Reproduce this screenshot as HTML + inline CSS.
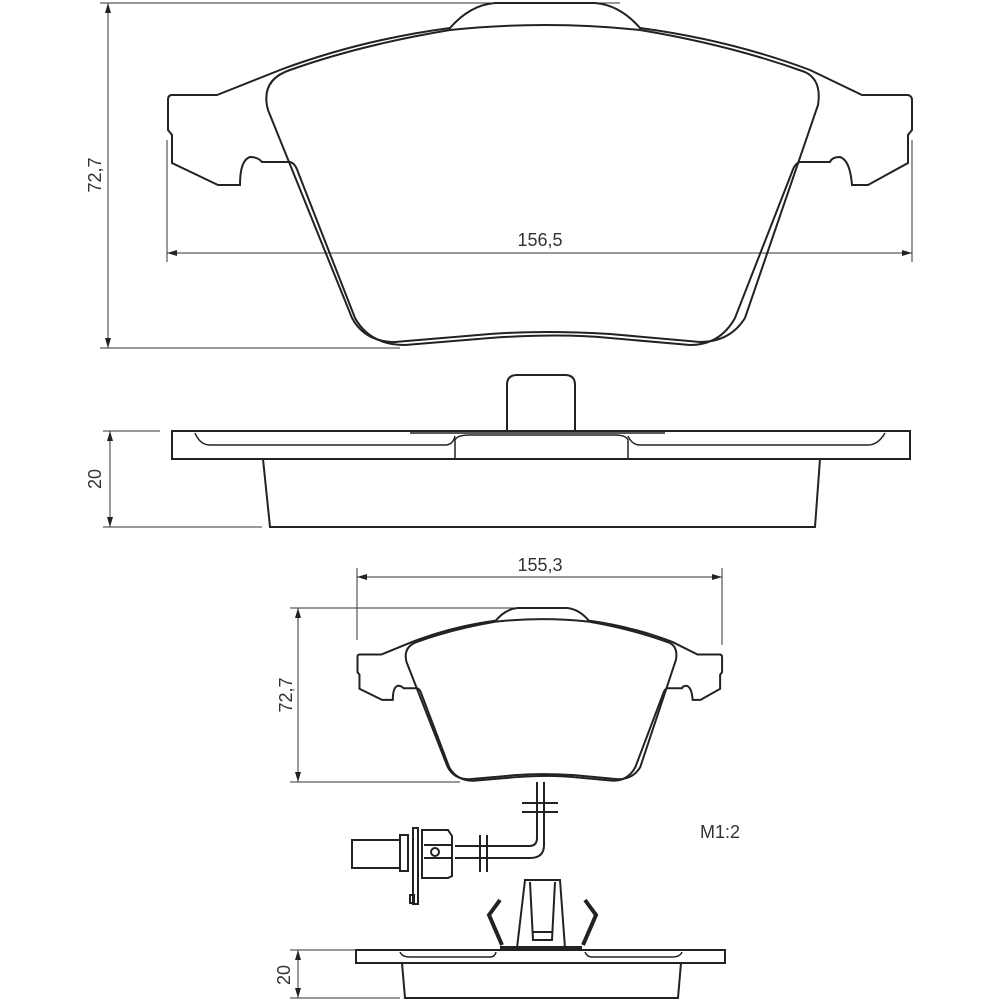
<!DOCTYPE html>
<html><head><style>body{margin:0;background:#fff}svg{display:block}text{font-family:"Liberation Sans",sans-serif;fill:#333}</style></head>
<body>
<svg width="1000" height="1000" viewBox="0 0 1000 1000" xmlns="http://www.w3.org/2000/svg">
<defs>
<marker id="a" viewBox="0 0 10 6" refX="10" refY="3" markerWidth="10" markerHeight="6" orient="auto-start-reverse" markerUnits="userSpaceOnUse"><path d="M0,0L10,3L0,6z" fill="#222"/></marker>
<g id="pad" fill="none" stroke="#222" stroke-width="2">
<path vector-effect="non-scaling-stroke" d="M217,95 L280,70 Q360,40 450,28 Q470,5 495,3 L595,3 Q620,5 640,28 Q730,40 810,70 L862,95 L908,95 Q912,96 912,100 L912,130 L908,135 L908,163 L868,185 L852,185 Q850,160 840,157 Q832,157 830,162 L800,162 Q795,163 792,172 L735,318 Q720,345 690,345 L610,338 Q560,333 490,338 L405,345 Q370,345 355,318 L298,172 Q295,163 290,162 L262,162 Q258,157 250,157 Q240,160 240,185 L218,185 L172,163 L172,135 L168,130 L168,100 Q168,95 172,95 Z"/>
<path vector-effect="non-scaling-stroke" d="M290,70 Q360,45 450,30 Q545,20 640,30 Q730,45 805,72 Q822,80 818,105 L745,318 Q730,342 700,342 L610,334 Q545,330 490,334 L395,342 Q365,342 352,318 L268,110 Q260,80 290,70 Z"/>
</g>
</defs>
<g fill="none" stroke="#333" stroke-width="1">
<!-- top dims -->
<line x1="100" y1="3" x2="620" y2="3"/><line x1="100" y1="348" x2="400" y2="348"/>
<line x1="108" y1="3" x2="108" y2="348" marker-start="url(#a)" marker-end="url(#a)"/>
<line x1="167" y1="140" x2="167" y2="262"/><line x1="912" y1="140" x2="912" y2="262"/>
<line x1="167" y1="253" x2="912" y2="253" marker-start="url(#a)" marker-end="url(#a)"/>
<!-- side dims -->
<line x1="103" y1="431" x2="160" y2="431"/><line x1="103" y1="527" x2="262" y2="527"/>
<line x1="110" y1="431" x2="110" y2="527" marker-start="url(#a)" marker-end="url(#a)"/>
<!-- bottom dims -->
<line x1="357" y1="568" x2="357" y2="640"/><line x1="722" y1="568" x2="722" y2="645"/>
<line x1="357" y1="577" x2="722" y2="577" marker-start="url(#a)" marker-end="url(#a)"/>
<line x1="290" y1="608" x2="520" y2="608"/><line x1="290" y1="782" x2="460" y2="782"/>
<line x1="298" y1="608" x2="298" y2="782" marker-start="url(#a)" marker-end="url(#a)"/>
<line x1="290" y1="950" x2="356" y2="950"/><line x1="290" y1="998" x2="400" y2="998"/>
<line x1="298" y1="950" x2="298" y2="998" marker-start="url(#a)" marker-end="url(#a)"/>
</g>
<use href="#pad"/>
<g transform="translate(275.2,606.5) scale(0.49,0.505)"><use href="#pad"/></g>
<!-- side view -->
<g fill="none" stroke="#222" stroke-width="2">
<path d="M507,430 L507,385 Q507,375 517,375 L565,375 Q575,375 575,385 L575,430"/>
<rect x="172" y="431" width="738" height="28"/>
<path d="M263,459 L270,527 L815,527 L820,459"/>
<path d="M195,433 Q200,445 210,445 L445,445 Q453,445 455,436 M628,436 Q632,445 640,445 L868,445 Q878,445 885,433" stroke-width="1.5"/>
<path d="M455,459 L455,440 Q457,435 470,435 L615,435 Q626,435 628,440 L628,459" stroke-width="1.5"/>
<line x1="410" y1="433" x2="665" y2="433" stroke-width="1.5"/>
</g>
<!-- sensor -->
<g fill="none" stroke="#222" stroke-width="2">
<path d="M537,782 L537,838 Q537,846 529,846 L455,846 M544,782 L544,845 Q544,858 530,858 L455,858"/>
<path d="M522,803 L558,803 M522,812 L558,812 M480,835 L480,872 M487,835 L487,872"/>
<path d="M422,830 L448,830 L452,836 L452,876 L448,878 L422,878 Z"/>
<path d="M424,845 L452,845 M424,858 L452,858"/>
<circle cx="435" cy="852" r="4"/>
<rect x="413" y="828" width="5" height="76"/>
<rect x="400" y="835" width="8" height="36"/>
<rect x="352" y="840" width="48" height="28"/>
<rect x="410" y="895" width="4" height="8"/>
</g>
<!-- clip & bottom side view -->
<g fill="none" stroke="#222" stroke-width="2">
<rect x="356" y="950" width="369" height="13"/>
<path d="M402,963 L405,998 L678,998 L681,963"/>
<path d="M400,952 Q402,957 410,957 L490,957 Q495,957 496,952 M585,952 Q587,957 592,957 L672,957 Q680,957 682,952" stroke-width="1.5"/>
<path d="M517,948 L525,880 L560,880 L565,948"/>
<path d="M530,882 L533,940 L552,940 L555,882 M533,932 L552,932"/>
<path d="M500,900 L489,915 L502,945 M585,900 L596,915 L583,945" stroke-width="4"/>
<path d="M500,948 L582,948" stroke-width="4"/>
</g>
<text x="540" y="246" font-size="18" text-anchor="middle">156,5</text>
<text x="540" y="571" font-size="18" text-anchor="middle">155,3</text>
<text x="700" y="838" font-size="18">M1:2</text>
<text transform="translate(101,175) rotate(-90)" font-size="18" text-anchor="middle">72,7</text>
<text transform="translate(101,479) rotate(-90)" font-size="18" text-anchor="middle">20</text>
<text transform="translate(292,695) rotate(-90)" font-size="18" text-anchor="middle">72,7</text>
<text transform="translate(290,975) rotate(-90)" font-size="18" text-anchor="middle">20</text>
</svg>
</body></html>
